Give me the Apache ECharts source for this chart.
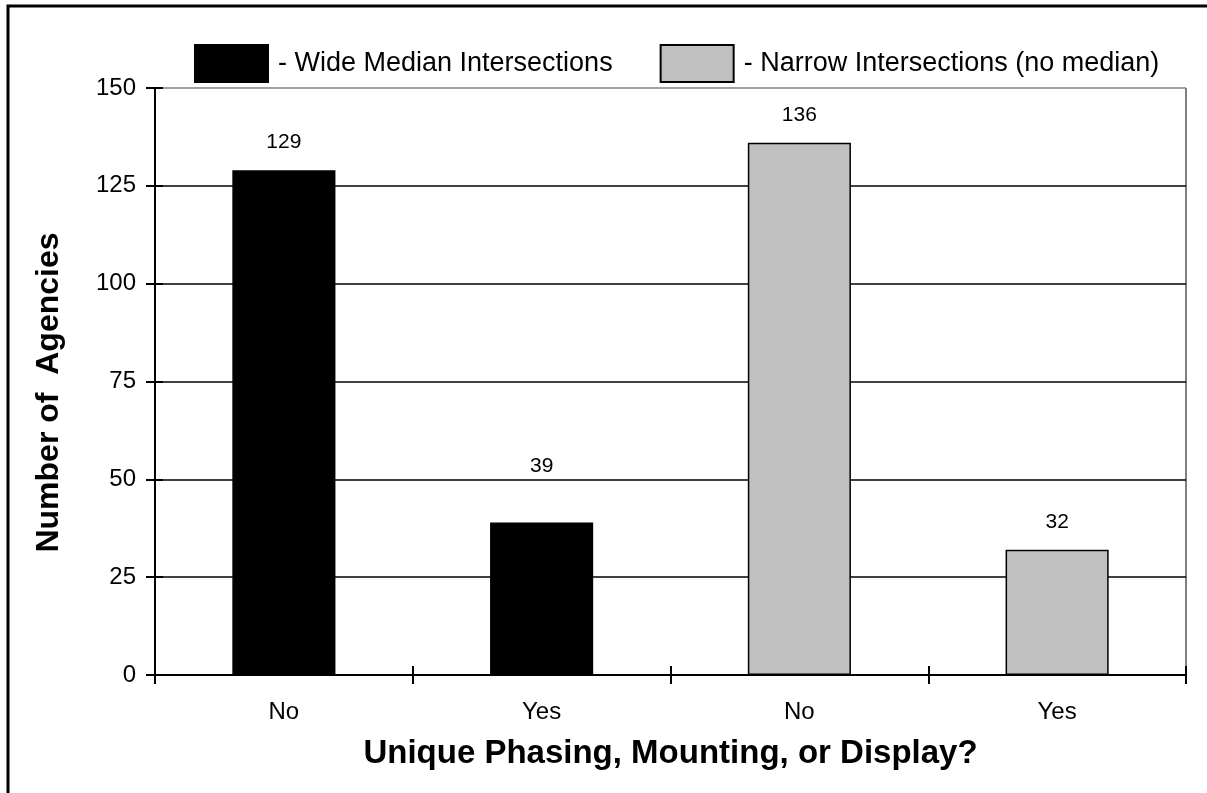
<!DOCTYPE html>
<html>
<head>
<meta charset="utf-8">
<script src="https://cdn.jsdelivr.net/npm/echarts@6/dist/echarts.min.js"></script>
<style>
  html, body { margin: 0; padding: 0; background: #fff; }
  #chart { width: 1207px; height: 793px; }
</style>
</head>
<body>
<div id="chart"></div>
<script>
// Survey responses: agencies using unique phasing, mounting or display
const categories = ['No', 'Yes', 'No', 'Yes'];
const wideMedian = [129, 39, '-', '-'];
const narrow = ['-', '-', 136, 32];
const seriesNames = ['- Wide Median Intersections', '- Narrow Intersections (no median)'];
const yTicks = { min: 0, max: 150, interval: 25 };

const FONT = '"Liberation Sans", Arial, sans-serif';
const chart = echarts.init(document.getElementById('chart'), null, { renderer: 'canvas' });

function withLabel(value) {
  // the "39" label sits higher above its bar than the others
  return {
    value: value,
    label: { distance: (value === 39) ? 46 : 17 }
  };
}

chart.setOption({
  animation: false,
  backgroundColor: '#fff',
  textStyle: { fontFamily: FONT },
  graphic: [{
    type: 'rect',
    shape: { x: 8, y: 6, width: 1400, height: 1000 },
    style: { fill: 'none', stroke: '#000', lineWidth: 3 },
    silent: true
  }, {
    // gray right edge of the plot frame
    type: 'line',
    shape: { x1: 1186, y1: 88, x2: 1186, y2: 675 },
    style: { stroke: '#808080', lineWidth: 2 },
    silent: true
  }],
  legend: {
    left: 189, top: 39,
    itemWidth: 73, itemHeight: 37, itemGap: 47,
    icon: 'rect',
    textStyle: { fontSize: 27, color: '#000', fontFamily: FONT, padding: [0, 0, 0, 5] },
    data: seriesNames
  },
  grid: { left: 155, right: 21, top: 88, bottom: 118 },
  xAxis: [{
    type: 'category',
    data: categories,
    axisLine: { lineStyle: { color: '#000', width: 2 } },
    axisTick: { show: true, length: 9, lineStyle: { color: '#000', width: 2 } },
    axisLabel: { fontSize: 24, color: '#000', margin: 25, fontFamily: FONT },
    name: 'Unique Phasing, Mounting, or Display?',
    nameLocation: 'middle', nameGap: 62,
    nameTextStyle: { fontSize: 33, fontWeight: 'bold', color: '#000', fontFamily: FONT }
  }, {
    type: 'category',
    data: categories,
    position: 'bottom',
    axisLine: { show: false },
    axisTick: { show: true, inside: true, length: 9, lineStyle: { color: '#000', width: 2 } },
    axisLabel: { show: false }
  }],
  yAxis: [{
    type: 'value',
    min: yTicks.min, max: yTicks.max, interval: yTicks.interval,
    axisLine: { show: true, lineStyle: { color: '#000', width: 2 } },
    axisTick: { show: true, length: 9, lineStyle: { color: '#000', width: 2 } },
    axisLabel: { fontSize: 24, color: '#000', margin: 19, fontFamily: FONT },
    splitLine: { show: true, lineStyle: { color: ['#000', '#000', '#000', '#000', '#000', '#000', '#808080'], width: 1.5 } },
    name: 'Number of  Agencies',
    nameLocation: 'middle', nameGap: 90, nameRotate: 90,
    nameTextStyle: { fontSize: 32, fontWeight: 'bold', color: '#000', fontFamily: FONT, padding: [0, 22, 0, 0] }
  }, {
    type: 'value',
    position: 'left',
    min: yTicks.min, max: yTicks.max, interval: yTicks.interval,
    axisLine: { show: false },
    axisTick: { show: true, inside: true, length: 8, lineStyle: { color: '#000', width: 2 } },
    axisLabel: { show: false },
    splitLine: { show: false }
  }],
  series: [{
    name: seriesNames[0],
    type: 'bar',
    barWidth: '40%',
    barGap: '-100%',
    data: wideMedian.map(withLabel),
    itemStyle: { color: '#000', borderColor: '#000', borderWidth: 1.5 },
    label: { show: true, position: 'top', fontSize: 21, color: '#000', fontFamily: FONT }
  }, {
    name: seriesNames[1],
    type: 'bar',
    barWidth: '40%',
    barGap: '-100%',
    data: narrow.map(withLabel),
    itemStyle: { color: '#c0c0c0', borderColor: '#000', borderWidth: 1.5 },
    label: { show: true, position: 'top', fontSize: 21, color: '#000', fontFamily: FONT }
  }]
});
</script>
</body>
</html>
